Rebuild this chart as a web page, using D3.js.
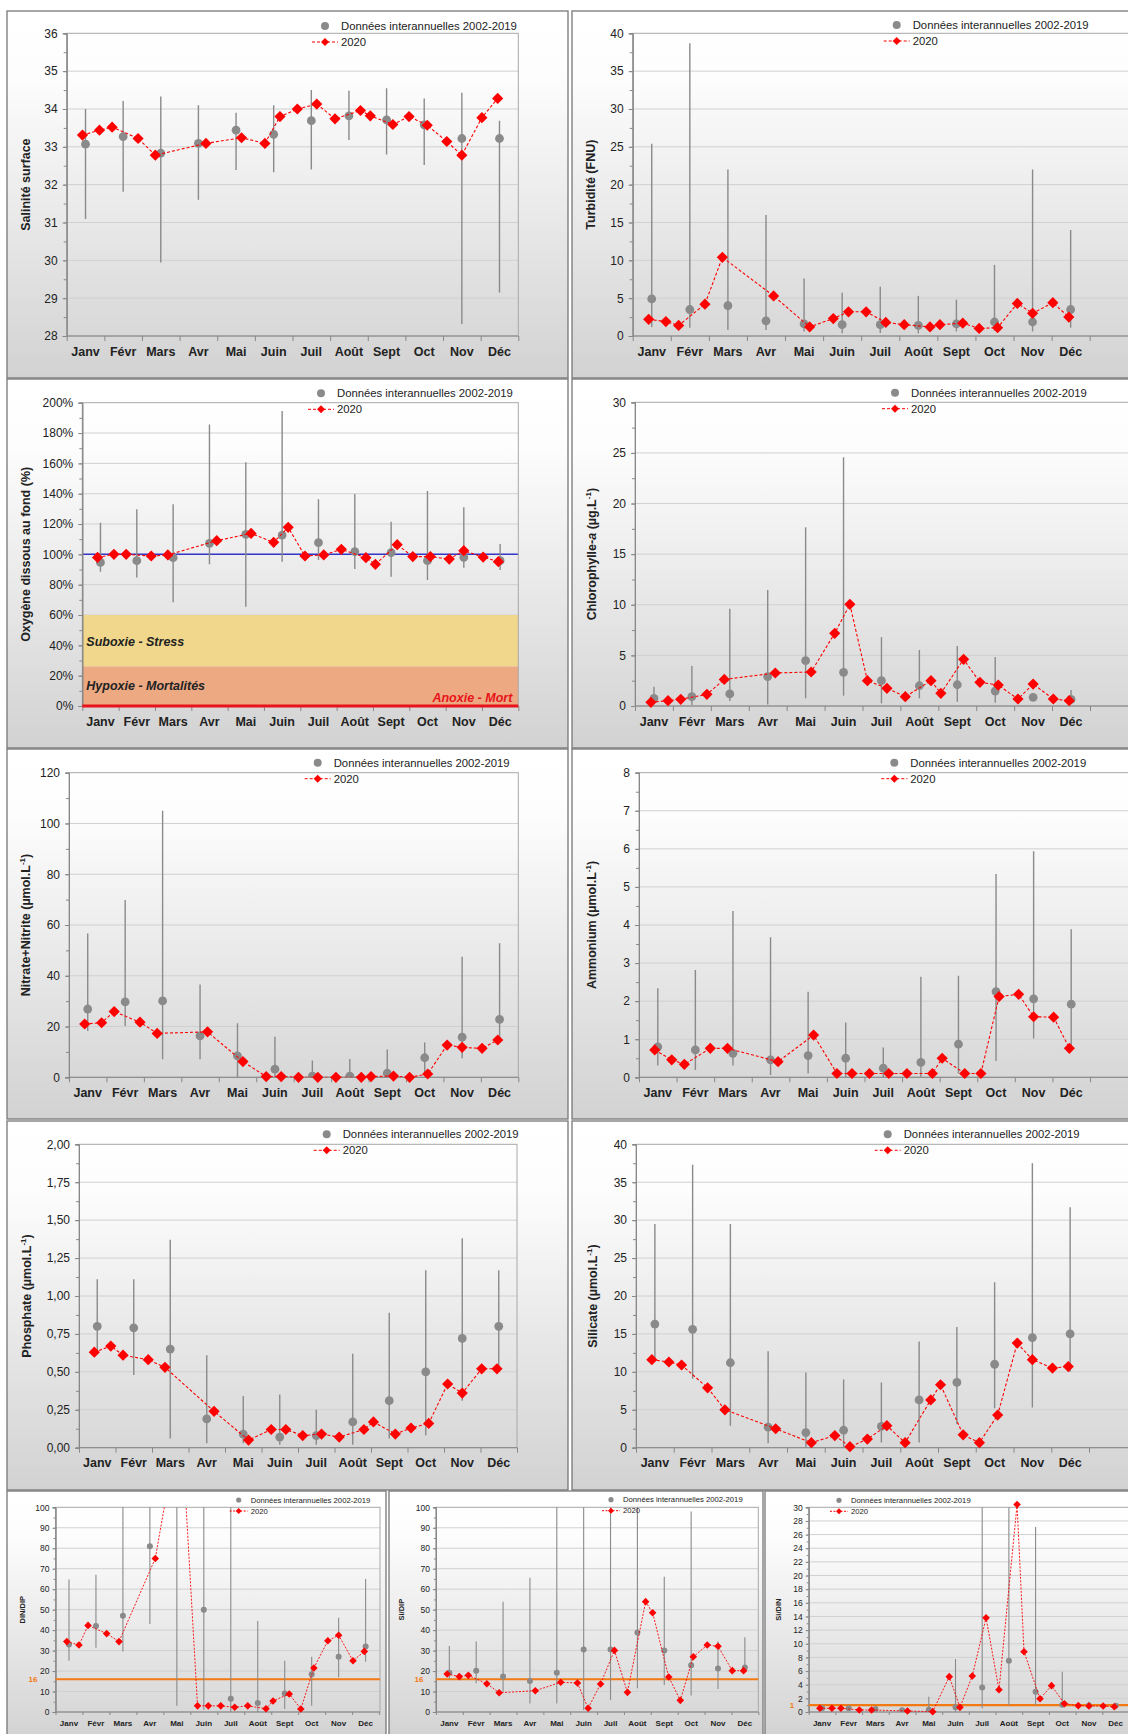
<!DOCTYPE html>
<html><head><meta charset="utf-8">
<script src="https://cdn.jsdelivr.net/npm/d3@7"></script>
<style>body{margin:0;background:#fff}svg{display:block}text{font-family:"Liberation Sans",Arial,sans-serif}</style>
</head><body><svg id="c" width="1128" height="1734"></svg>
<script>
// ---------- DATA ----------
const months = ["Janv","Févr","Mars","Avr","Mai","Juin","Juil","Août","Sept","Oct","Nov","Déc"];
const legendLabels = ["Données interannuelles 2002-2019","2020"];
const dates2020 = ["2020-01-14","2020-01-28","2020-02-07","2020-02-27","2020-03-12","2020-04-22","2020-05-21","2020-06-09","2020-06-21","2020-07-05","2020-07-21","2020-08-05","2020-08-26","2020-09-03","2020-09-21","2020-10-04","2020-10-19","2020-11-04","2020-11-16","2020-12-02","2020-12-15"];

const salMean=[33.07,33.27,32.83,33.09,33.44,33.33,33.69,33.82,33.71,33.58,33.22,33.22];
const salMin=[31.09,31.81,29.94,31.6,32.39,32.33,32.4,33.18,32.8,32.52,28.32,29.15];
const salMax=[34.0,34.21,34.33,34.1,33.9,34.1,34.5,34.48,34.55,34.28,34.43,33.69];
const sal2020=[33.31,33.44,33.52,33.22,32.78,33.09,33.24,33.09,33.80,34.0,34.13,33.74,33.96,33.82,33.59,33.80,33.57,33.14,32.78,33.77,34.28];

const turMean=[4.9,3.5,4.0,2.0,1.6,1.5,1.5,1.4,1.6,1.85,1.85,3.5];
const turMin=[1.2,1.1,0.8,0.8,0.6,0.35,0.4,0.35,0.6,0.7,0.6,1.1];
const turMax=[25.4,38.7,22.0,16.0,7.6,5.7,6.5,5.3,4.8,9.4,22.0,14.0];
const tur2020=[2.2,1.9,1.4,4.2,10.4,5.3,1.2,2.3,3.2,3.2,1.8,1.5,1.2,1.5,1.7,1.0,1.1,4.3,3.0,4.4,2.5];

const oxyMean=[94.7,95.8,97.8,107.3,113.2,112.7,107.7,101.8,101.1,95.8,98.0,95.8];
const oxyMin=[88.6,84.8,68.4,93.4,65.5,95.2,96.3,90.3,85.3,83.1,91.2,89.7];
const oxyMax=[120.9,129.7,133,185.7,160.7,194.5,136.3,139.8,121.5,141.8,131,106.8];
const oxy2020=[98.0,100,100,98.9,99.6,109,113.8,107.9,117.8,98.9,99.6,103.3,97.8,93.4,106.4,98.5,98.5,96.9,102.4,98.2,95.2];
const oxyZones=[{from:26,to:60,label:"Suboxie - Stress"},{from:0,to:26,label:"Hypoxie - Mortalités"}];
const oxyAnoxie={value:0,label:"Anoxie - Mort"};
const oxySaturation=100;

const chlMean=[0.76,0.92,1.19,2.9,4.48,3.33,2.5,2.0,2.1,1.48,0.86,0.66];
const chlMin=[0.26,0.1,0.5,0.16,0.76,1.02,0.26,0.76,0.43,0.33,0.5,0.26];
const chlMax=[1.9,3.95,9.6,11.46,17.65,24.56,6.8,5.53,5.93,4.84,1.25,1.58];
const chl2020=[0.36,0.53,0.66,1.15,2.63,3.26,3.36,7.18,10.04,2.5,1.75,0.92,2.5,1.25,4.61,2.34,2.07,0.69,2.17,0.69,0.53];

const no3Mean=[26.9,29.7,30.1,16.3,8.4,3.2,0.5,0.5,1.6,7.7,15.8,22.8];
const no3Min=[18.2,20.2,7.1,7.1,0,0,0,0,0,1.6,7.5,15.4];
const no3Max=[56.7,69.8,105,36.6,21.3,16,6.6,7.2,11,13.7,47.5,52.8];
const no32020=[21.0,21.5,25.9,21.7,17.3,17.9,6.2,0.3,0.3,0,0,0,0,0.3,0.5,0,1.3,12.7,11.8,11.4,14.7];

const nh4Mean=[0.8,0.72,0.63,0.46,0.57,0.5,0.24,0.39,0.87,2.25,2.06,1.92];
const nh4Min=[0.31,0.19,0.31,0.06,0.1,0,0,0,0.1,0.43,1.02,0.74];
const nh4Max=[2.34,2.82,4.37,3.68,2.25,1.44,0.78,2.64,2.67,5.34,5.94,3.89];
const nh42020=[0.72,0.46,0.34,0.76,0.76,0.41,1.11,0.1,0.1,0.1,0.1,0.1,0.1,0.5,0.1,0.1,2.12,2.18,1.59,1.58,0.76];

const po4Mean=[0.80,0.79,0.65,0.19,0.09,0.07,0.08,0.17,0.31,0.50,0.72,0.80];
const po4Min=[0.63,0.48,0.06,0.03,0.03,0.02,0.02,0.02,0.06,0.08,0.31,0.52];
const po4Max=[1.11,1.11,1.37,0.61,0.34,0.35,0.25,0.62,0.89,1.17,1.38,1.17];
const po42020=[0.63,0.67,0.61,0.58,0.53,0.24,0.05,0.12,0.12,0.08,0.09,0.07,0.12,0.17,0.09,0.13,0.16,0.42,0.36,0.52,0.52];

const sioMean=[16.3,15.6,11.2,2.7,2.0,2.3,2.8,6.3,8.6,11.0,14.5,15.0];
const sioMin=[11.6,9.1,2.9,0.6,0.1,0.1,0.7,0.7,3.1,5.2,5.3,10.0];
const sioMax=[29.5,37.3,29.5,12.7,9.9,9.0,8.6,14.0,15.9,21.8,37.5,31.7];
const sio2020=[11.6,11.3,10.9,7.9,5.0,2.5,0.66,1.6,0.13,1.14,2.9,0.66,6.3,8.3,1.7,0.66,4.3,13.8,11.6,10.5,10.7];

const dindipMean=[33,42,47,81,120,50,6.5,4.4,9,18.4,27,32];
const dindipMin=[25,31.4,29.5,43,3,1,0,0,1.5,3,17,24.6];
const dindipMax=[64.7,67,250,200,300,400,200,44.5,25,27,46,65];
const dindip2020=[34.4,32.7,42.3,38.3,34.4,75,146,3,3,3,2.3,3,1.6,5.4,8.8,1.5,21.5,34.8,37.5,25,29.6];

const sidipMean=[19.2,20.2,17.3,15.1,19.2,30.5,30.5,38.8,30.1,22.8,21.2,21.7];
const sidipMin=[16.4,14,9.9,4.2,4.2,1,5.9,11.6,13.2,8,11.2,19.7];
const sidipMax=[32.2,34.4,53.9,65.6,130,150,130,110,66.1,97.9,34.4,36.5];
const sidip2020=[18.6,17.3,17.9,13.8,9.4,10.4,14.5,14.2,1.8,13.7,30.1,9.6,53.9,48.5,17.1,5.7,27,32.7,32.1,20.2,20.2];

const sidinMean=[0.54,0.54,0.44,0.24,0.34,0.68,3.6,7.5,2.98,1.07,0.95,0.9];
const sidinMin=[0.2,0.2,0.15,0.05,0,0.05,0.5,1.0,1.0,0.8,0.5,0.5];
const sidinMax=[1.0,0.9,0.8,0.5,2.25,7.77,40,35,27.1,5.9,1.5,1.3];
const sidin2020=[0.54,0.54,0.54,0.29,0.29,0.15,0.05,5.18,0.68,5.28,13.8,3.27,30.4,8.84,1.95,3.86,1.22,0.93,0.88,0.88,0.78];

const redfieldNP=16, redfieldSiP=16, redfieldSiN=1;

// ---------- SERIES DEFINITIONS ----------
const fr = d3.formatLocale({decimal:",",thousands:" ",grouping:[3],currency:["","€"]});
const series = [
 {title:[{t:"Salinité surface"}], domain:[28,36], major:1, minor:0.5, fmt:d=>d, mean:salMean,min:salMin,max:salMax,v:sal2020},
 {title:[{t:"Turbidité (FNU)"}], domain:[0,40], major:5, minor:2.5, fmt:d=>d, mean:turMean,min:turMin,max:turMax,v:tur2020},
 {title:[{t:"Oxygène dissous au fond (%)"}], domain:[0,200], major:20, minor:10, fmt:d=>d+"%", mean:oxyMean,min:oxyMin,max:oxyMax,v:oxy2020, oxy:true},
 {title:[{t:"Chlorophylle-"},{t:"a",it:true},{t:" (µg.L"},{t:"-1",sup:true},{t:")"}], domain:[0,30], major:5, minor:2.5, fmt:d=>d, mean:chlMean,min:chlMin,max:chlMax,v:chl2020},
 {title:[{t:"Nitrate+Nitrite (µmol.L"},{t:"-1",sup:true},{t:")"}], domain:[0,120], major:20, minor:10, fmt:d=>d, mean:no3Mean,min:no3Min,max:no3Max,v:no32020},
 {title:[{t:"Ammonium (µmol.L"},{t:"-1",sup:true},{t:")"}], domain:[0,8], major:1, minor:0.5, fmt:d=>d, mean:nh4Mean,min:nh4Min,max:nh4Max,v:nh42020},
 {title:[{t:"Phosphate (µmol.L"},{t:"-1",sup:true},{t:")"}], domain:[0,2], major:0.25, minor:0.125, fmt:fr.format(".2f"), mean:po4Mean,min:po4Min,max:po4Max,v:po42020},
 {title:[{t:"Silicate (µmol.L"},{t:"-1",sup:true},{t:")"}], domain:[0,40], major:5, minor:2.5, fmt:d=>d, mean:sioMean,min:sioMin,max:sioMax,v:sio2020},
 {title:[{t:"DIN/DIP"}], domain:[0,100], major:10, minor:5, fmt:d=>d, mean:dindipMean,min:dindipMin,max:dindipMax,v:dindip2020, ref:redfieldNP},
 {title:[{t:"Si/DIP"}], domain:[0,100], major:10, minor:5, fmt:d=>d, mean:sidipMean,min:sidipMin,max:sidipMax,v:sidip2020, ref:redfieldSiP},
 {title:[{t:"Si/DIN"}], domain:[0,30], major:2, minor:1, fmt:d=>d, mean:sidinMean,min:sidinMin,max:sidinMax,v:sidin2020, ref:redfieldSiN},
];

// ---------- LAYOUT ----------
const layout = [
 {box:[7,11,561,367], plot:[66.7,33.3,518.3,336], titleX:30, leg:[325,26]},
 {box:[572,11,570,367], plot:[632.7,33.3,1140,336], xr:[632.7,1089.7], titleX:595, leg:[896.7,25]},
 {box:[7,379,561,369], plot:[82.3,402.7,518.3,706], titleX:30, leg:[321,393.3]},
 {box:[572,379,570,369], plot:[635,402.3,1140,706], xr:[635,1090], titleX:596, leg:[895,392.7]},
 {box:[7,749,561,370], plot:[69,772.7,518.3,1077.3], titleX:30, leg:[317.7,762.7]},
 {box:[572,749,570,370], plot:[639,772.7,1140,1077.3], xr:[639,1090], titleX:596, leg:[894.3,762.7]},
 {box:[7,1121,561,369], plot:[79,1144.3,517,1447.7], titleX:31, leg:[326.7,1134.3]},
 {box:[572,1121,570,369], plot:[636,1144.3,1140,1447.7], xr:[636,1089], titleX:596.7, leg:[887.7,1134.3]},
 {box:[7,1491,379,250], plot:[55.5,1507.3,380,1712], xr:[55.5,379.1], small:true, titleX:25, leg:[238.7,1500], refX:33},
 {box:[389,1491,374,250], plot:[435.9,1507.3,758.3,1712], small:true, titleX:404, leg:[611,1499.7], refX:419},
 {box:[765,1491,370,250], plot:[808.7,1507.3,1140,1712], xr:[808.7,1129], small:true, titleX:780.7, leg:[839,1500.3], refX:792},
];

const svg = d3.select("#c");
const defs = svg.append("defs");
const grad = defs.append("linearGradient").attr("id","bg").attr("x1",0).attr("y1",0).attr("x2",0).attr("y2",1);
grad.append("stop").attr("offset","0%").attr("stop-color","#ffffff");
grad.append("stop").attr("offset","18%").attr("stop-color","#fdfdfd");
grad.append("stop").attr("offset","100%").attr("stop-color","#d2d2d2");

const parse = d3.timeParse("%Y-%m-%d");
const monthPos = s => { const d = parse(s); const m = d.getMonth(); const dim = new Date(d.getFullYear(), m+1, 0).getDate(); return m + (d.getDate()-1)/dim; };
const diamond = s => `M0,${-s}L${s},0L0,${s}L${-s},0Z`;
const RED = "#ff0000", GRAY="#8a8a8a", ORANGE="#f37a12";

series.forEach((s, i) => {
  const L = layout[i];
  const S = !!L.small;
  const [bx,by,bw,bh] = L.box, [l,t,r,b] = L.plot;
  const g = svg.append("g");
  g.append("rect").attr("x",bx).attr("y",by).attr("width",bw).attr("height",bh)
    .attr("fill","url(#bg)").attr("stroke","#777").attr("stroke-width",1.3);
  const x = d3.scaleLinear().domain([0,12]).range(L.xr || [l,r]);
  const y = d3.scaleLinear().domain(s.domain).range([b,t]);
  const cid = "clip"+i;
  defs.append("clipPath").attr("id",cid).append("rect").attr("x",l).attr("y",t).attr("width",r-l).attr("height",b-t);
  defs.append("clipPath").attr("id",cid+"m").append("rect").attr("x",l-8).attr("y",t-8).attr("width",r-l+16).attr("height",b-t+16);
  const nMaj = Math.round((s.domain[1]-s.domain[0])/s.major);
  const majors = d3.range(nMaj+1).map(k => s.domain[0]+k*s.major);
  const nMin = Math.round((s.domain[1]-s.domain[0])/s.minor);
  const minors = d3.range(nMin+1).map(k => s.domain[0]+k*s.minor);

  // gridlines
  g.append("g").selectAll("line").data(majors.slice(1,-1)).join("line")
    .attr("x1",l).attr("x2",r).attr("y1",d=>y(d)).attr("y2",d=>y(d))
    .attr("stroke","#d0d0d0").attr("stroke-width",1);

  // oxygen zones
  if (s.oxy) {
    const zoneColors = ["#f0d78b","#eca982"];
    oxyZones.forEach((z,k) => {
      g.append("rect").attr("x",l).attr("width",r-l).attr("y",y(z.to)).attr("height",y(z.from)-y(z.to)).attr("fill",zoneColors[k]);
    });
    g.append("text").attr("x",l+4).attr("y",y(oxyZones[0].from)-21).text(oxyZones[0].label)
      .attr("font-size",12.5).attr("font-weight","bold").attr("font-style","italic").attr("fill","#222");
    g.append("text").attr("x",l+4).attr("y",y(oxyZones[1].from)-16).text(oxyZones[1].label)
      .attr("font-size",12.5).attr("font-weight","bold").attr("font-style","italic").attr("fill","#222");
    g.append("text").attr("x",r-6).attr("y",y(oxyAnoxie.value)-4).attr("text-anchor","end").text(oxyAnoxie.label)
      .attr("font-size",12.5).attr("font-weight","bold").attr("font-style","italic").attr("fill","#e8141a");
    g.append("line").attr("x1",l).attr("x2",r).attr("y1",y(oxySaturation)).attr("y2",y(oxySaturation))
      .attr("stroke","#3535c8").attr("stroke-width",1.5);
  }

  // plot frame
  g.append("rect").attr("x",l).attr("y",t).attr("width",r-l).attr("height",b-t)
    .attr("fill","none").attr("stroke","#a8a8a8").attr("stroke-width",1);

  // y axis
  const fs = S ? 8.5 : 12;
  const ya = g.append("g").attr("transform",`translate(${l},0)`)
    .call(d3.axisLeft(y).tickValues(majors).tickSize(S?3:4).tickPadding(S?3:5).tickFormat(s.fmt));
  const ym = g.append("g").attr("transform",`translate(${l},0)`)
    .call(d3.axisLeft(y).tickValues(minors).tickSize(S?2:3).tickFormat(""));
  [ya,ym].forEach(a => { a.select(".domain").attr("stroke","#888"); a.selectAll("line").attr("stroke","#888"); });
  ya.selectAll("text").attr("font-size",fs).attr("fill","#222").attr("font-family",'"Liberation Sans",Arial,sans-serif');

  // x axis
  const xa = g.append("g").attr("transform",`translate(0,${b})`)
    .call(d3.axisBottom(x).tickValues(d3.range(0,13)).tickSize(S?3:5).tickFormat(""));
  xa.select(".domain").remove();
  xa.selectAll("line").attr("stroke","#888");
  g.append("line").attr("x1",l).attr("x2",r).attr("y1",b).attr("y2",b).attr("stroke","#888");
  g.append("g").selectAll("text").data(months).join("text")
    .attr("x",(d,k)=>x(k+0.5)).attr("y",b+(S?13.5:19.5)).attr("text-anchor","middle")
    .attr("font-size",S?8:12.5).attr("font-weight","bold").attr("fill","#222").text(d=>d);

  // red anoxia line
  if (s.oxy) g.append("line").attr("x1",l).attr("x2",r).attr("y1",y(oxyAnoxie.value)).attr("y2",y(oxyAnoxie.value))
      .attr("stroke","#e8141a").attr("stroke-width",3);

  // reference ratio line
  if (s.ref !== undefined) {
    g.append("line").attr("x1",l).attr("x2",r).attr("y1",y(s.ref)).attr("y2",y(s.ref))
      .attr("stroke",ORANGE).attr("stroke-width",2.2);
    g.append("text").attr("x",L.refX).attr("y",y(s.ref)).attr("dy","0.35em").attr("text-anchor","middle")
      .attr("font-size",8).attr("font-weight","bold").attr("fill",ORANGE).text(s.ref);
  }

  // title
  const tt = g.append("text").attr("transform",`translate(${L.titleX},${(t+b)/2}) rotate(-90)`)
    .attr("text-anchor","middle").attr("font-size",S?7.5:12.5).attr("font-weight","bold").attr("fill","#222");
  s.title.forEach((p,k) => {
    const ts = tt.append("tspan").text(p.t);
    if (p.it) ts.attr("font-style","italic");
    if (p.sup) { ts.attr("font-size",S?5:8).attr("dy",-5); }
    else if (k>0 && s.title[k-1].sup) ts.attr("dy",5);
  });

  // data layers
  const dg = g.append("g").attr("clip-path",`url(#${cid})`);
  const mg = g.append("g").attr("clip-path",`url(#${cid}m)`);
  const inter = s.mean.map((m,k)=>({k, m, lo:s.min[k], hi:s.max[k]}));
  dg.selectAll("line.w").data(inter).join("line").attr("class","w")
    .attr("x1",d=>x(d.k+0.5)).attr("x2",d=>x(d.k+0.5)).attr("y1",d=>y(d.lo)).attr("y2",d=>y(d.hi))
    .attr("stroke",GRAY).attr("stroke-width",S?1.1:1.4);
  dg.selectAll("circle").data(inter).join("circle")
    .attr("cx",d=>x(d.k+0.5)).attr("cy",d=>y(d.m)).attr("r",S?3:4.4).attr("fill",GRAY);
  const pts = dates2020.map((dt,k)=>({m:monthPos(dt), v:s.v[k]}));
  dg.append("path").datum(pts).attr("d",d3.line().x(d=>x(d.m)).y(d=>y(d.v)))
    .attr("fill","none").attr("stroke",RED).attr("stroke-width",S?0.9:1.1).attr("stroke-dasharray",S?"2,1.5":"3,2");
  mg.selectAll("path.dm").data(pts).join("path").attr("class","dm")
    .attr("transform",d=>`translate(${x(d.m)},${y(d.v)})`).attr("d",diamond(S?3.8:5.6)).attr("fill",RED);

  // legend
  const [lx,ly] = L.leg;
  const lg = g.append("g");
  const dy2 = S?11:16, tx = S?12:16, hw = S?9:13;
  lg.append("circle").attr("cx",lx).attr("cy",ly).attr("r",S?2.6:4).attr("fill",GRAY);
  lg.append("text").attr("x",lx+tx).attr("y",ly).attr("dy","0.35em").attr("font-size",S?7.7:11.3).attr("fill","#222").text(legendLabels[0]);
  lg.append("line").attr("x1",lx-hw).attr("x2",lx+hw).attr("y1",ly+dy2).attr("y2",ly+dy2)
    .attr("stroke",RED).attr("stroke-width",1).attr("stroke-dasharray",S?"2,1.5":"3,2");
  lg.append("path").attr("transform",`translate(${lx},${ly+dy2})`).attr("d",diamond(S?3:4)).attr("fill",RED);
  lg.append("text").attr("x",lx+tx).attr("y",ly+dy2).attr("dy","0.35em").attr("font-size",S?7.7:11.3).attr("fill","#222").text(legendLabels[1]);
});
</script></body></html>
